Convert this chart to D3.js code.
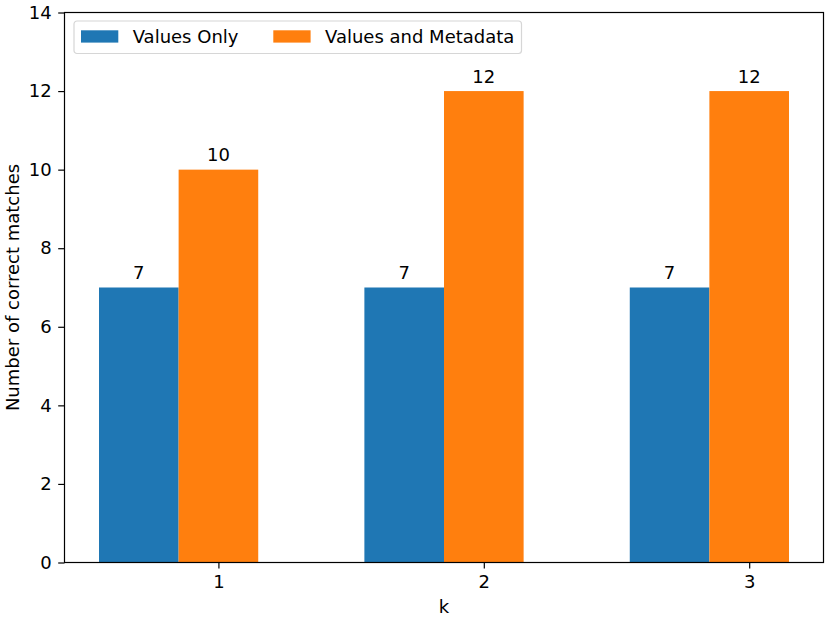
<!DOCTYPE html>
<html>
<head>
<meta charset="utf-8">
<script src="https://cdn.jsdelivr.net/npm/d3@7"></script>
<style>
  body { margin: 0; background: #fff; }
  svg { font-family: "DejaVu Sans", sans-serif; }
</style>
</head>
<body>
<svg id="chart"></svg>
<script>
const categories = [1, 2, 3];
const valuesOnly = [7, 7, 7];
const valuesAndMetadata = [10, 12, 12];
const seriesNames = ["Values Only", "Values and Metadata"];
const yTicks = [0, 2, 4, 6, 8, 10, 12, 14];

const width = 830, height = 623;
const margin = { top: 12.5, right: 6.5, bottom: 60.5, left: 64.5 };
const innerWidth = width - margin.left - margin.right;
const innerHeight = height - margin.top - margin.bottom;
const barW = 0.3;
const colors = ["#1f77b4", "#ff7f0e"];
const fontSize = 18;

const svg = d3.select("#chart").attr("width", width).attr("height", height);
const chart = svg.append("g").attr("transform", `translate(${margin.left}, ${margin.top})`);

const xScale = d3.scaleLinear().domain([0.42, 3.28]).range([0, innerWidth]);
const yScale = d3.scaleLinear().domain([0, 14]).range([innerHeight, 0]);

// bars: first series sits one bar width left of the tick, second centred on it
const series = [
  { name: seriesNames[0], values: valuesOnly, offset: -barW, color: colors[0] },
  { name: seriesNames[1], values: valuesAndMetadata, offset: 0, color: colors[1] }
];

series.forEach(s => {
  const g = chart.append("g");
  categories.forEach((k, i) => {
    const x0 = xScale(k + s.offset - barW / 2);
    const x1 = xScale(k + s.offset + barW / 2);
    g.append("rect")
      .attr("x", x0)
      .attr("y", yScale(s.values[i]))
      .attr("width", x1 - x0)
      .attr("height", yScale(0) - yScale(s.values[i]))
      .attr("fill", s.color);
    g.append("text")
      .attr("x", (x0 + x1) / 2)
      .attr("y", yScale(s.values[i]) - 8.5)
      .attr("text-anchor", "middle")
      .attr("font-size", fontSize)
      .text(s.values[i]);
  });
});

// axes
const xAxis = chart.append("g")
  .attr("transform", `translate(0, ${innerHeight})`)
  .call(d3.axisBottom(xScale).tickValues(categories).tickFormat(d3.format("d")).tickSize(6).tickPadding(6.7));
const yAxis = chart.append("g")
  .call(d3.axisLeft(yScale).tickValues(yTicks).tickSize(6.3).tickPadding(6.5));

[xAxis, yAxis].forEach(a => {
  a.select(".domain").remove();
  a.selectAll("line").attr("stroke", "#000").attr("stroke-width", 1.2);
  a.selectAll("text").attr("font-size", fontSize).attr("fill", "#000").attr("font-family", "DejaVu Sans");
});

// frame
chart.append("rect")
  .attr("x", 0).attr("y", 0)
  .attr("width", innerWidth).attr("height", innerHeight)
  .attr("fill", "none").attr("stroke", "#000").attr("stroke-width", 1.2);

// axis labels
svg.append("text")
  .attr("x", margin.left + innerWidth / 2)
  .attr("y", 613)
  .attr("text-anchor", "middle")
  .attr("font-size", fontSize)
  .text("k");

svg.append("text")
  .attr("transform", `translate(19, ${margin.top + innerHeight / 2}) rotate(-90)`)
  .attr("text-anchor", "middle")
  .attr("font-size", fontSize)
  .text("Number of correct matches");

// legend
const legend = svg.append("g").attr("transform", "translate(74, 21)");
legend.append("rect")
  .attr("width", 447.5).attr("height", 32.5)
  .attr("rx", 3).attr("fill", "#fff").attr("fill-opacity", 0.8)
  .attr("stroke", "#d6d6d6").attr("stroke-width", 1.2);
const legendX = [7, 199.3];
series.forEach((s, i) => {
  legend.append("rect")
    .attr("x", legendX[i]).attr("y", 9.3)
    .attr("width", 37.3).attr("height", 12.3)
    .attr("fill", s.color);
  legend.append("text")
    .attr("x", legendX[i] + 51.7)
    .attr("y", 22.3)
    .attr("font-size", fontSize)
    .text(s.name);
});
</script>
</body>
</html>
